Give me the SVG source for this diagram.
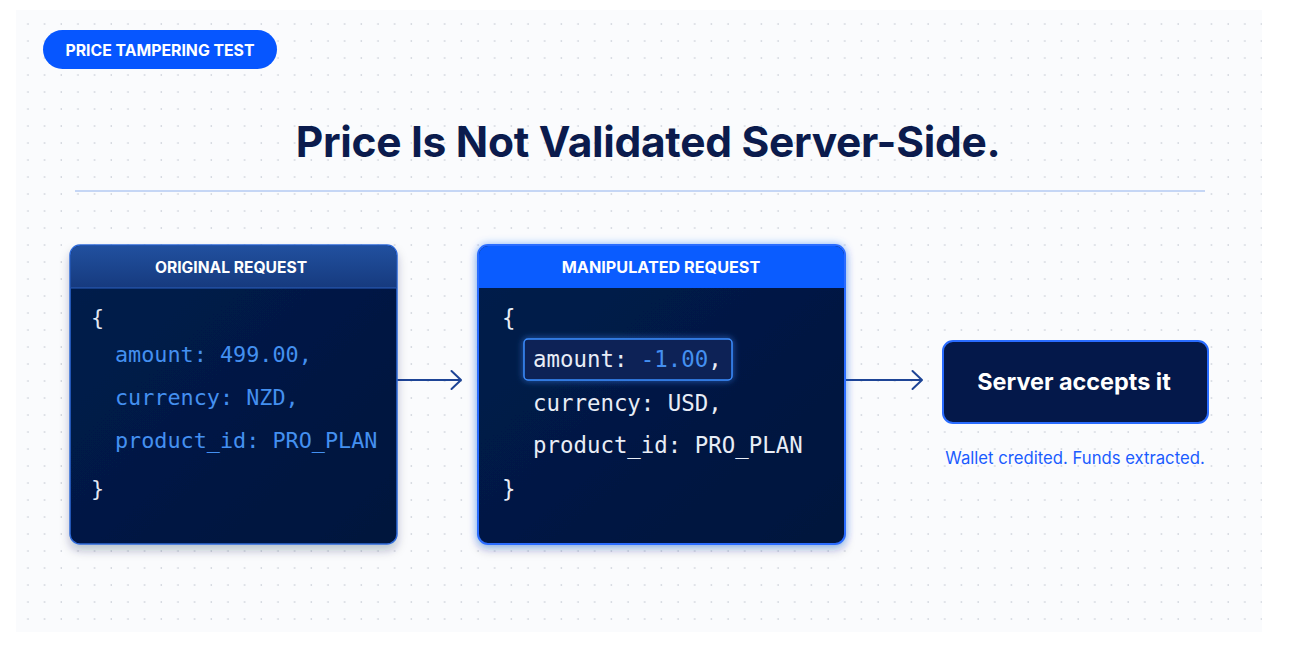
<svg xmlns="http://www.w3.org/2000/svg" width="1294" height="646" viewBox="0 0 1294 646">
<defs>
<style>
.sans{font-family:Inter,"Liberation Sans",Arial,sans-serif}
.mono{font-family:"DejaVu Sans Mono","Liberation Mono",monospace}
.hdr{font-size:15.6px;font-weight:700;fill:#ffffff;text-anchor:middle}
.code1{font-size:21.8px;fill:#4490f0}
.code2{font-size:22.4px;fill:#e8edf6}
.brace{fill:#e3e8f2}
.val{fill:#4490f0}
.conn{stroke:#1d4496;stroke-width:1.8;fill:none}
</style>
<pattern id="dots" x="12" y="8" width="16.67" height="17" patternUnits="userSpaceOnUse">
<circle cx="16" cy="16" r="0.9" fill="#d3d7df"/>
</pattern>
<linearGradient id="hdr1" x1="0" y1="0" x2="0" y2="1">
<stop offset="0" stop-color="#21509f"/>
<stop offset="1" stop-color="#163a7e"/>
</linearGradient>
<linearGradient id="body" x1="0" y1="0" x2="1" y2="1">
<stop offset="0" stop-color="#051d4c"/>
<stop offset="1" stop-color="#02143d"/>
</linearGradient>
<filter id="shadow" x="-10%" y="-10%" width="120%" height="125%">
<feDropShadow dx="0" dy="6" stdDeviation="5" flood-color="#0b1a4a" flood-opacity="0.25"/>
</filter>
<filter id="glow" x="-10%" y="-10%" width="120%" height="125%">
<feGaussianBlur in="SourceAlpha" stdDeviation="4" result="b"/>
<feFlood flood-color="#2a6cff" flood-opacity="0.45"/>
<feComposite in2="b" operator="in" result="g"/>
<feDropShadow dx="0" dy="6" stdDeviation="5" flood-color="#0b1a4a" flood-opacity="0.2" in="SourceGraphic" result="s"/>
<feMerge><feMergeNode in="g"/><feMergeNode in="s"/></feMerge>
</filter>
<filter id="boxglow" x="-20%" y="-40%" width="140%" height="180%">
<feGaussianBlur in="SourceGraphic" stdDeviation="3" result="b"/>
<feMerge><feMergeNode in="b"/><feMergeNode in="SourceGraphic"/></feMerge>
</filter>
<marker id="chev" markerWidth="14" markerHeight="22" refX="11" refY="11" orient="auto" markerUnits="userSpaceOnUse">
<path d="M1.5,2 L11,11 L1.5,20" fill="none" stroke="#1d4496" stroke-width="2" stroke-linecap="round" stroke-linejoin="round"/>
</marker>
</defs>

<rect x="0" y="0" width="1294" height="646" fill="#ffffff"/>
<rect x="16" y="10" width="1246" height="622" fill="#fafbfd"/>
<rect x="16" y="10" width="1246" height="622" fill="url(#dots)"/>

<g id="badge">
<rect x="43" y="30" width="234" height="39" rx="19.5" fill="#0656ff"/>
<text class="sans" x="160" y="55.5" font-size="15.8" font-weight="700" fill="#ffffff" text-anchor="middle">PRICE TAMPERING TEST</text>
</g>

<g id="title">
<text class="sans" x="648" y="157" font-size="42.5" font-weight="700" fill="#0b1b4d" text-anchor="middle" letter-spacing="-0.3">Price Is Not Validated Server-Side.</text>
<line x1="75" y1="191" x2="1205" y2="191" stroke="#8fb2ee" stroke-width="1.2"/>
</g>

<g id="connectors">
<line class="conn" x1="397" y1="380" x2="461" y2="380" marker-end="url(#chev)"/>
<line class="conn" x1="845" y1="380" x2="922" y2="380" marker-end="url(#chev)"/>
</g>

<g id="original-request">
<g filter="url(#shadow)">
<rect x="70" y="245" width="327" height="299" rx="10" fill="url(#body)" stroke="#2f6ad8" stroke-width="1.5"/>
</g>
<path d="M70.75,288 V255 a9.25,9.25 0 0 1 9.25,-9.25 H387 a9.25,9.25 0 0 1 9.25,9.25 V288 Z" fill="url(#hdr1)"/>
<line x1="70.75" y1="288" x2="396.25" y2="288" stroke="#2a5fbf" stroke-width="1"/>
<text class="sans hdr" x="231" y="273">ORIGINAL REQUEST</text>
<text class="mono code1 brace" x="91" y="325">{</text>
<text class="mono code1" x="115" y="362">amount: 499.00,</text>
<text class="mono code1" x="115" y="405">currency: NZD,</text>
<text class="mono code1" x="115" y="448">product_id: PRO_PLAN</text>
<text class="mono code1 brace" x="91" y="496">}</text>
</g>

<g id="manipulated-request">
<g filter="url(#glow)">
<rect x="478" y="245" width="367" height="299" rx="10" fill="url(#body)" stroke="#2a6cff" stroke-width="2"/>
</g>
<path d="M479,288 V255 a9,9 0 0 1 9,-9 H835 a9,9 0 0 1 9,9 V288 Z" fill="#0a5cff"/>
<text class="sans hdr" x="661" y="273" style="font-size:16.2px">MANIPULATED REQUEST</text>
<text class="mono code2" x="502" y="326">{</text>
<rect x="524" y="339" width="208" height="41" rx="4" fill="#082456" stroke="#3d8dff" stroke-width="1.5" filter="url(#boxglow)"/>
<text class="mono code2" x="533" y="367">amount: <tspan class="val">-1.00</tspan>,</text>
<text class="mono code2" x="533" y="411">currency: USD,</text>
<text class="mono code2" x="533" y="453">product_id: PRO_PLAN</text>
<text class="mono code2" x="502" y="497">}</text>
</g>

<g id="server-accepts">
<rect x="943" y="341" width="265" height="82" rx="10" fill="#04184a" stroke="#2a6cff" stroke-width="2"/>
<text class="sans" x="1074" y="390" font-size="23.4" font-weight="700" fill="#ffffff" text-anchor="middle">Server accepts it</text>
<text class="sans" x="1075" y="464" font-size="16.7" fill="#1a5cff" text-anchor="middle">Wallet credited. Funds extracted.</text>
</g>
</svg>
